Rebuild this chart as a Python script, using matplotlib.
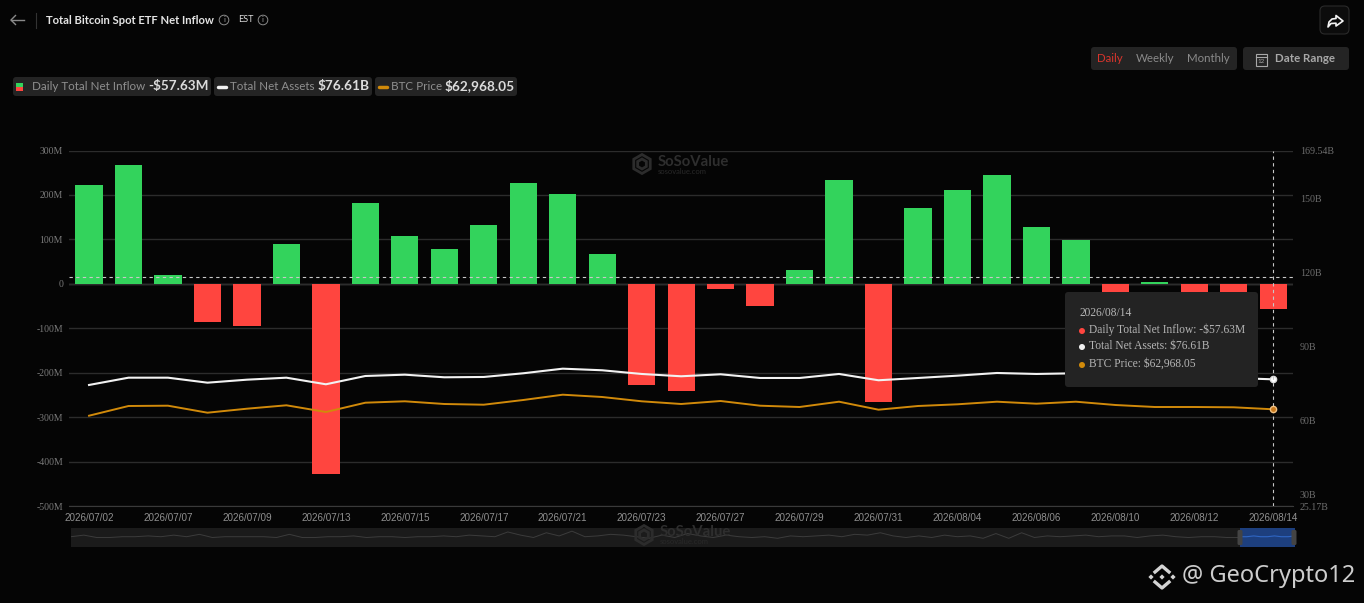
import matplotlib
matplotlib.use("Agg")
import matplotlib.pyplot as plt
from matplotlib.patches import FancyBboxPatch, Polygon, RegularPolygon, Rectangle, Circle

# data
dates = ["2026/07/02", "2026/07/06", "2026/07/07", "2026/07/08", "2026/07/09", "2026/07/10",
         "2026/07/13", "2026/07/14", "2026/07/15", "2026/07/16", "2026/07/17", "2026/07/20",
         "2026/07/21", "2026/07/22", "2026/07/23", "2026/07/24", "2026/07/27", "2026/07/28",
         "2026/07/29", "2026/07/30", "2026/07/31", "2026/08/03", "2026/08/04", "2026/08/05",
         "2026/08/06", "2026/08/07", "2026/08/10", "2026/08/11", "2026/08/12", "2026/08/13",
         "2026/08/14"]
net_inflow = [222, 267, 20, -86, -96, 90, -428, 181, 107, 78, 132, 227, 203, 68, -228, -242,
              -12, -50, 30, 233, -267, 170, 212, 244, 127, 98, -20, 4, -20, -20, -57.63]
net_assets = [74.32, 77.28, 77.28, 75.25, 76.47, 77.28, 74.60, 77.97, 78.50, 77.44, 77.57,
              79.07, 80.94, 80.29, 78.79, 77.85, 78.66, 77.16, 77.16, 78.79, 76.23, 77.16,
              78.10, 79.19, 78.79, 79.07, 78.38, 77.97, 77.57, 77.16, 76.61]
btc_price = [58803, 65120, 65315, 60757, 63362, 65576, 61213, 67269, 68181, 66422, 65967,
             69027, 72479, 70981, 68181, 66422, 68376, 65315, 64469, 67920, 62711, 65120,
             66227, 67920, 66618, 67920, 65771, 64469, 64469, 64273, 62968.05]
# overview strip above the date slider, rough heights
overview = [5, 7, 4, 4, 5, 5, 6, 5, 7, 5, 8, 4, 5, 5, 5, 5, 4, 8, 4, 4, 5, 5, 6, 4, 5, 5, 4, 5,
            5, 6, 5, 7, 6, 5, 11, 7, 4, 10, 6, 12, 5, 6, 8, 7, 5, 3, 7, 4, 9, 6, 4, 7, 5, 4, 5,
            3, 6, 5, 6, 7, 5, 8, 7, 10, 6, 4, 6, 4, 7, 5, 6, 3, 9, 3, 10, 4, 6, 5, 6, 7, 5, 6,
            6, 4, 6, 7, 5, 4, 5, 5, 4, 4]
overview_sel = [5, 5, 6, 5, 5, 6, 5, 5, 6]

left_ticks = [-500, -400, -300, -200, -100, 0, 100, 200, 300]
right_ticks = [25.17, 30, 60, 90, 120, 150, 169.54]
right_labels = ["25.17B", "30B", "60B", "90B", "120B", "150B", "169.54B"]
cursor_value = 14.6

W, H = 1364, 603
BG = "#050505"
GREEN = "#33d35c"
RED = "#ff453f"
ORANGE = "#d18a0a"
CHIP = "#242424"
SERIF = "Liberation Serif"
UI = "Lato"

plt.rcParams["font.family"] = ["Lato", "DejaVu Sans"]

fig = plt.figure(figsize=(W / 100, H / 100), dpi=100, facecolor=BG)


def px_axes(x0, y0, x1, y1, **kw):
    # axes from pixel box, y measured from the top
    return fig.add_axes([x0 / W, 1 - y1 / H, (x1 - x0) / W, (y1 - y0) / H], **kw)


# main chart
ax = px_axes(69.3, 150.5, 1293, 506)
ax.set_facecolor("none")
xs = list(range(len(dates)))
colors = [GREEN if v >= 0 else RED for v in net_inflow]
ax.bar(xs, net_inflow, width=0.69, color=colors, zorder=3)
ax.set_xlim(-0.5, len(dates) - 0.5)
ax.set_ylim(-500, 300)
ax.set_yticks(left_ticks)
ax.set_yticklabels([("0" if v == 0 else f"{v}M") for v in left_ticks], family=SERIF, fontsize=7, color="#7a7a7a")
ax.set_xticks(xs[::2])
ax.set_xticklabels(dates[::2], fontsize=7.1, color="#909090")
for lab in ax.get_xticklabels():
    lab.set_fontfamily("Liberation Sans")
ax.tick_params(axis="both", length=0)
ax.tick_params(axis="y", pad=4.5)
ax.tick_params(axis="x", pad=5)
ax.grid(axis="y", color="#2c2c2c", lw=1, zorder=0)
ax.axhline(0, color="#4a4a4a", lw=1, zorder=1)
for s in ax.spines.values():
    s.set_visible(False)
ax.spines["bottom"].set_visible(True)
ax.spines["bottom"].set_color("#3a3a3a")

ax_r = ax.twinx()
ax_r.set_facecolor("none")
ax_r.set_ylim(25.17, 169.54)
ax_r.set_yticks(right_ticks)
ax_r.set_yticklabels(right_labels, family=SERIF, fontsize=7.2, color="#6e6e6e")
ax_r.tick_params(axis="y", length=0, pad=5)
ax_r.plot(xs, net_assets, color="#f2f2f2", lw=1.5, zorder=4)
ax_r.plot(xs[-1], net_assets[-1], "o", ms=4.5, mfc="#ffffff", mec="#dddddd", zorder=6)

ax_p = ax.twinx()
ax_p.set_facecolor("none")
ax_p.set_ylim(0, 231500)
ax_p.axis("off")
ax_p.plot(xs, btc_price, color=ORANGE, lw=1.4, zorder=4)
ax_p.plot(xs[-1], btc_price[-1], "o", ms=4.5, mfc="#c9791c", mec="#f0c080", zorder=6)

for a in (ax_r, ax_p):
    for s in a.spines.values():
        s.set_visible(False)

# crosshair
ax_p.axvline(xs[-1], color="#c8c8c8", lw=0.8, ls=(0, (3, 3)), zorder=5)
ax.axhline(cursor_value, color="#c8c8c8", lw=0.8, ls=(0, (3, 3)), zorder=5)

# overview strip
mini = px_axes(71, 528, 1240, 547)
mini.set_facecolor("#1b1b1b")
mini.plot(range(len(overview)), overview, color="#3c3c3c", lw=0.7)
mini.set_xlim(0, len(overview) - 1)
mini.set_ylim(-8, 16)
mini.set_xticks([])
mini.set_yticks([])
for s in mini.spines.values():
    s.set_visible(False)

sel = px_axes(1240, 528, 1295, 547)
sel.set_facecolor("#1d3f7e")
sel.plot(range(len(overview_sel)), overview_sel, color="#2f66c4", lw=0.8)
sel.set_xlim(0, len(overview_sel) - 1)
sel.set_ylim(-8, 16)
sel.set_xticks([])
sel.set_yticks([])
for s in sel.spines.values():
    s.set_visible(False)

# everything around the chart is drawn in pixel coordinates
ov = fig.add_axes([0, 0, 1, 1], facecolor="none")
ov.set_xlim(0, W)
ov.set_ylim(H, 0)
ov.axis("off")


def box(x0, y0, x1, y1, color=CHIP, r=3, ec="none", z=2):
    ov.add_patch(FancyBboxPatch((x0 + r, y0 + r), x1 - x0 - 2 * r, y1 - y0 - 2 * r,
                                boxstyle=f"round,pad={r},rounding_size={r}", fc=color, ec=ec, lw=0.8, zorder=z))


def txt(x, y, s, size=8, color="#bdbdbd", weight="normal", family=UI, ha="left", z=5):
    ov.text(x, y, s, fontsize=size, color=color, fontweight=weight, family=family, ha=ha, va="center", zorder=z)


def info(x, y):
    ov.add_patch(Circle((x, y), 4.8, fc="none", ec="#8a8a8a", lw=0.7))
    txt(x, y, "i", size=5.5, color="#9a9a9a", ha="center")


# header
ov.plot([11, 24], [20, 20], color="#8a8a8a", lw=1)
ov.plot([15.5, 11, 15.5], [15.5, 20, 24.5], color="#8a8a8a", lw=1)
ov.plot([36, 36], [13, 28], color="#333333", lw=0.8)
txt(46, 20, "Total Bitcoin Spot ETF Net Inflow", size=8.1, color="#e4e4e4", weight="bold")
info(224, 20)
txt(238, 20, "EST", size=6.5, color="#dddddd")
info(263, 20)

# legend chips
box(13, 77, 211, 96)
box(214, 77, 372, 96)
box(375, 77, 517, 96)
ov.add_patch(Rectangle((16, 83), 7, 4, fc=GREEN, zorder=4))
ov.add_patch(Rectangle((16, 87), 7, 4, fc=RED, zorder=4))
txt(32, 86.5, "Daily Total Net Inflow", size=8.4, color="#8f8f8f")
txt(148, 86, "-$57.63M", size=9.7, color="#dcdcdc", weight="bold")
ov.plot([218, 226], [86.5, 86.5], color="#f2f2f2", lw=2.5, solid_capstyle="round", zorder=4)
txt(230, 86.5, "Total Net Assets", size=8.4, color="#8f8f8f")
txt(318, 86, "$76.61B", size=9.8, color="#dcdcdc", weight="bold")
ov.plot([379, 387], [86.5, 86.5], color=ORANGE, lw=2.5, solid_capstyle="round", zorder=4)
txt(391, 86.5, "BTC Price", size=8.4, color="#8f8f8f")
txt(445, 86, "$62,968.05", size=9.8, color="#dcdcdc", weight="bold")

# buttons, top right
box(1320, 6, 1349, 34, color="#0c0c0c", r=5, ec="#2a2a2a")
ov.add_patch(Polygon([(1336, 15.5), (1343, 21), (1336, 26), (1336, 23.2), (1331, 23.5), (1328, 27),
                      (1329, 22), (1332, 19), (1336, 18.5)],
                     closed=True, fc="none", ec="#f4f4f4", lw=1.2, joinstyle="round", zorder=4))
box(1091, 47, 1237, 70)
box(1243, 47, 1349, 70)
txt(1097, 59, "Daily", size=8.3, color="#d8352c")
txt(1136, 59, "Weekly", size=8.3, color="#8a8a8a")
txt(1187, 59, "Monthly", size=8.3, color="#8a8a8a")
ov.add_patch(Rectangle((1255.5, 53.5), 11, 12, fc="none", ec="#a8a8a8", lw=0.8, zorder=4))
ov.plot([1255.5, 1266.5], [56.5, 56.5], color="#a8a8a8", lw=0.8, zorder=4)
txt(1261, 61.5, "12", size=4.5, color="#a8a8a8", ha="center")
txt(1275, 59, "Date Range", size=8.3, color="#a8a8a8", weight="bold")

# tooltip
box(1065, 292, 1258, 387, color="#232323", r=3, z=6)
txt(1079, 313, "2026/08/14", size=8.3, color="#b5b5b5", family=SERIF, z=7)
rows = [(330, RED, "Daily Total Net Inflow: -$57.63M"),
        (346, "#f0f0f0", "Total Net Assets: $76.61B"),
        (364, ORANGE, "BTC Price: $62,968.05")]
for y, c, s in rows:
    ov.add_patch(Circle((1082, y + 1), 3, fc=c, ec="none", zorder=7))
    txt(1089, y, s, size=8.3, color="#b5b5b5", family=SERIF, z=7)

# slider handles
for x in (1240, 1294):
    box(x - 2.5, 530, x + 2.5, 545, color="#444444", r=1.5, z=3)


def soso_mark(cx, cy):
    ov.add_patch(RegularPolygon((cx, cy), 6, radius=5, fc="none", ec="#2c2c2c", lw=2, zorder=2.5))
    ov.add_patch(RegularPolygon((cx, cy), 6, radius=9.5, fc="none", ec="#2c2c2c", lw=2, zorder=2.5))
    txt(cx + 16, cy - 2.5, "SoSoValue", size=10.7, color="#2e2e2e", weight="bold", z=2.5)
    txt(cx + 16, cy + 7, "sosovalue.com", size=5.5, color="#292929", z=2.5)


soso_mark(642, 164)
soso_mark(644, 535)

# footer mark
logo_x, logo_y = 1162, 577
for dx, dy in ((-11, 0), (11, 0), (0, 0)):
    ov.add_patch(RegularPolygon((logo_x + dx, logo_y + dy), 4, radius=2.6, fc="#d4d4d4"))
ov.plot([logo_x - 7, logo_x, logo_x + 7], [logo_y - 5, logo_y - 11, logo_y - 5], color="#d4d4d4", lw=2.4)
ov.plot([logo_x - 7, logo_x, logo_x + 7], [logo_y + 5, logo_y + 11, logo_y + 5], color="#d4d4d4", lw=2.4)
txt(1182, 576.5, "@ GeoCrypto12", size=17, color="#cdcdcd", family="Noto Sans")

fig.savefig("out.png", dpi=100, facecolor=BG)
